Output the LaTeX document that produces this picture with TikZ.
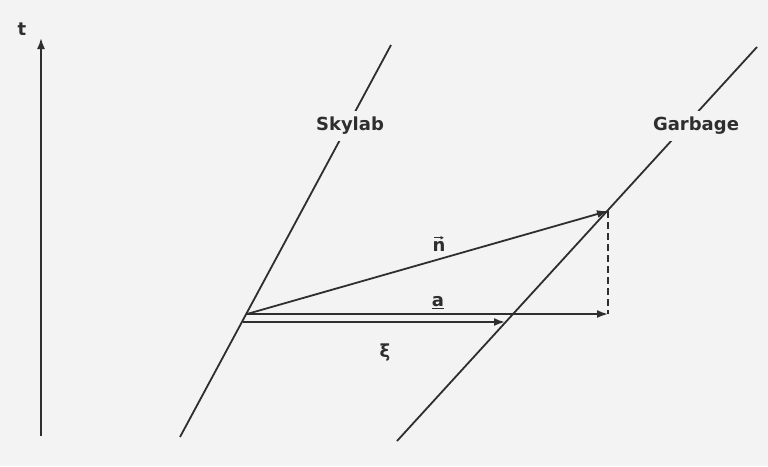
\documentclass[tikz,border=0pt]{standalone}
\usepackage{fontspec}
\setmainfont{DejaVu Sans}
\usetikzlibrary{arrows.meta}
\definecolor{ink}{HTML}{2E2E2E}
\definecolor{paper}{HTML}{F3F3F3}
\begin{document}
\begin{tikzpicture}[x=1pt,y=-1pt,
  worldline/.style={draw=ink, line width=1.8pt},
  vecline/.style={worldline, -{Latex[length=11pt,width=8pt]}},
  lbl/.style={font=\fontsize{18}{20}\selectfont\bfseries, text=ink, inner sep=1pt},
  gaplbl/.style={lbl, fill=paper, inner xsep=2pt, inner ysep=6pt}]
\fill[paper] (0,0) rectangle (768,466);
\useasboundingbox (0,0) rectangle (768,466);
% end points
\coordinate (tb) at (41,436);
\coordinate (tt) at (41,38);
\coordinate (sb) at (180,437);
\coordinate (st) at (391,45);
\coordinate (gb) at (397,441);
\coordinate (gt) at (757,47);
\coordinate (A) at (247,314);
\coordinate (X) at (243,322);
\coordinate (P) at (608,211);
\coordinate (Q) at (608,314);
\coordinate (R) at (505,322);
% time axis
\draw[vecline] (tb) -- (tt);
\node[lbl] (tlab) at (22,29) {t};
% world lines
\draw[worldline] (sb) -- (st);
\draw[worldline] (gb) -- (gt);
\node[gaplbl] (sky) at (350,126) {Skylab};
\node[gaplbl] (gar) at (696,126) {Garbage};
% vectors
\draw[vecline] (A) -- (P);
\draw[vecline] (A) -- (Q);
\draw[vecline] (X) -- (R);
\draw[worldline, line width=1.5pt, dash pattern=on 7pt off 4pt] (P) -- (Q);
\node[lbl] (nlab) at (439,246) {n};
\draw[draw=ink, line width=1.2pt, -{Latex[length=3.5pt,width=4pt]}]
  ([xshift=-5pt,yshift=2pt]nlab.north) -- ([xshift=5pt,yshift=2pt]nlab.north);
\node[lbl] (alab) at (438,303) {\underline{a}};
\node[lbl] (xilab) at (385,353) {ξ};
\end{tikzpicture}
\end{document}
